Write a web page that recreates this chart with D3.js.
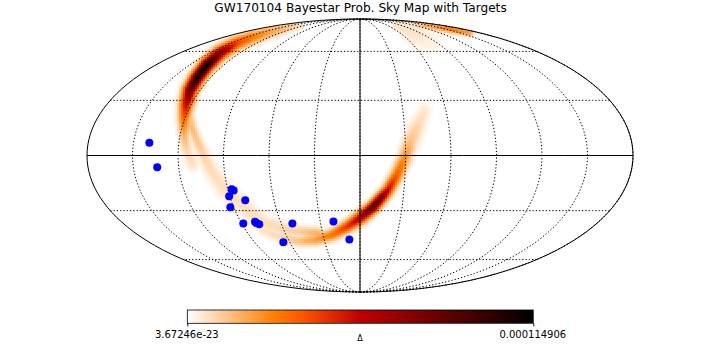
<!DOCTYPE html>
<html>
<head>
<meta charset="utf-8">
<title>GW170104 Bayestar Prob. Sky Map with Targets</title>
<script src="https://d3js.org/d3.v7.min.js"></script>
<style>
  body { margin: 0; background: #fff; }
  svg { display: block; }
  text { font-family: "DejaVu Sans", sans-serif; fill: #000; }
</style>
</head>
<body>
<div id="SkyMap"></div>
<script>
const chartTitle = 'GW170104 Bayestar Prob. Sky Map with Targets';
const unitLabel = '\u0394';

// colorbar limits and their printed labels
const probRange = [3.67246e-23, 0.000114906];
const probTickLabels = ['3.67246e-23', '0.000114906'];

// gist_heat_r, stop position as a fraction of the range
const colorStops = [0, 0.25, 1 / 3, 0.5, 1];
const colorValues = ['#ffffff', '#ff8000', '#ff5500', '#bf0000', '#000000'];

// observed targets, [lon, lat] in degrees
const targets = [
  [139.5, 6.8], [134.2, -6.3], [87.4, -18.2], [86.2, -18.9], [90.4, -22.0],
  [80.1, -24.2], [92.4, -28.1], [88.7, -37.3], [79.2, -36.4], [78.7, -37.1],
  [76.9, -37.8], [51.4, -37.3], [20.0, -36.2], [65.5, -48.7], [8.9, -46.9],
];

// probability ridges: [lon, lat, peak prob, spread in degrees]
const northArc = [
  [134.9, 81.5, 0.8e-5, 2.0], [138.5, 78.5, 1.5e-5, 2.4], [139.3, 74.8, 2.2e-5, 2.7],
  [142.1, 70.7, 3.0e-5, 3.0], [143.2, 66.0, 4.4e-5, 3.0], [139.8, 58.9, 7.6e-5, 3.0],
  [134.8, 51.0, 11.3e-5, 2.9], [130.6, 43.0, 10.9e-5, 2.9], [127.8, 35.9, 8.6e-5, 3.0],
  [123.5, 27.4, 5.7e-5, 3.0], [120.2, 19.1, 3.4e-5, 2.6], [117.4, 11.0, 1.8e-5, 2.4],
  [114.2, 2.9, 1.0e-5, 2.4], [110.4, -5.1, 0.7e-5, 2.8],
];
const innerArc = [
  [119.6, 23.5, 1.3e-5, 2.2], [113.1, 14.8, 1.6e-5, 2.2], [107.3, 6.7, 1.3e-5, 2.4],
  [102.9, -0.3, 1.0e-5, 2.8], [98.3, -8.8, 0.8e-5, 3.4], [92.0, -18.6, 0.7e-5, 4.0],
  [82.1, -28.5, 0.7e-5, 4.0], [74.0, -36.5, 0.75e-5, 3.6], [62.3, -40.0, 0.9e-5, 3.0],
  [47.8, -42.4, 1.15e-5, 2.8], [33.8, -43.6, 1.9e-5, 2.8],
];
const southArc = [
  [77.1, -41.2, 0.6e-5, 2.4], [65.8, -45.4, 0.9e-5, 2.4], [52.4, -47.9, 1.4e-5, 2.4],
  [37.8, -47.3, 2.2e-5, 2.5], [22.7, -44.2, 3.2e-5, 2.6], [10.1, -39.4, 4.6e-5, 2.6],
  [0.0, -34.2, 6.3e-5, 2.8], [-9.3, -28.0, 9.0e-5, 2.5], [-14.6, -23.0, 8.0e-5, 2.5],
  [-19.1, -18.6, 5.7e-5, 2.5], [-24.6, -10.4, 3.7e-5, 2.8], [-29.7, -0.8, 2.5e-5, 3.0],
  [-33.8, 8.3, 1.4e-5, 3.4], [-39.2, 16.4, 0.9e-5, 3.6], [-45.5, 24.6, 0.5e-5, 3.0],
];
const polarEdge = [
  [-135.2, 82.6, 1.15e-5, 1.2], [-146.0, 80.5, 2.07e-5, 1.6],
  [-157.9, 77.5, 3.0e-5, 1.8], [-164.4, 74.0, 2.3e-5, 1.5],
];
const polarFan = [
  [-83.4, 80.5, 0.7e-5, 3.0], [-82.2, 74.0, 0.6e-5, 5.5], [-83.1, 66.8, 0.35e-5, 5.5],
];
const ridges = [northArc, innerArc, southArc, polarEdge, polarFan];

/* Size */
const width = 720;
const height = 360;
const cell = 2;

/* Mollweide, not part of d3-geo core */
function mollweideRaw(lambda, phi) {
  let theta = phi;
  if (Math.abs(phi) > Math.PI / 2 - 1e-6) {
    theta = Math.sign(phi) * Math.PI / 2;
  } else {
    for (let i = 0; i < 30; i++) {
      const delta = (2 * theta + Math.sin(2 * theta) - Math.PI * Math.sin(phi)) / (2 + 2 * Math.cos(2 * theta));
      theta -= delta;
      if (Math.abs(delta) < 1e-8) break;
    }
  }
  return [2 * Math.SQRT2 / Math.PI * lambda * Math.cos(theta), Math.SQRT2 * Math.sin(theta)];
}

const projection = d3.geoProjection(mollweideRaw)
  .reflectX(true)
  .scale(96.52)
  .translate([360, 155.5])
  .precision(0.1);
const geoPath = d3.geoPath(projection);

/* Scale */
const probColor = d3.scaleLinear()
  .domain(colorStops.map(f => probRange[0] + f * (probRange[1] - probRange[0])))
  .range(colorValues);
const barScale = d3.scaleLinear().domain(probRange).range([187.3, 533.3]);

const svg = d3.select('#SkyMap')
  .append('svg')
  .attr('width', width)
  .attr('height', height)
  .attr('viewBox', `0 0 ${width} ${height}`);

/* Map cells */
const [[x0, y0], [x1, y1]] = geoPath.bounds({ type: 'Sphere' });
const cx = (x0 + x1) / 2;
const cy = (y0 + y1) / 2;
const pxPerDeg = (x1 - x0) / 360;

const ridgeSegments = ridges.map(ridge => ridge.map(d => {
  const p = projection([d[0], d[1]]);
  return { x: p[0], y: p[1], prob: d[2], spread: d[3] * pxPerDeg };
}));

function probAt(x, y) {
  let best = 0;
  ridgeSegments.forEach(pts => {
    for (let i = 0; i < pts.length - 1; i++) {
      const a = pts[i];
      const b = pts[i + 1];
      const dx = b.x - a.x;
      const dy = b.y - a.y;
      const t = Math.max(0, Math.min(1, ((x - a.x) * dx + (y - a.y) * dy) / (dx * dx + dy * dy)));
      const ex = x - (a.x + t * dx);
      const ey = y - (a.y + t * dy);
      const s = a.spread + t * (b.spread - a.spread);
      const v = (a.prob + t * (b.prob - a.prob)) * Math.exp(-(ex * ex + ey * ey) / (2 * s * s));
      if (v > best) best = v;
    }
  });
  return best;
}

const cells = [];
for (let y = Math.floor(y0); y < y1; y += cell) {
  for (let x = Math.floor(x0); x < x1; x += cell) {
    const ux = (x + cell / 2 - cx) / ((x1 - x0) / 2);
    const uy = (y + cell / 2 - cy) / ((y1 - y0) / 2);
    if (ux * ux + uy * uy >= 1) continue;
    const prob = probAt(x + cell / 2, y + cell / 2);
    if (prob > probRange[1] * 0.008) cells.push({ x, y, prob });
  }
}

svg.append('g')
  .attr('class', 'cells')
  .attr('shape-rendering', 'crispEdges')
  .selectAll('rect')
  .data(cells)
  .enter()
  .append('rect')
  .attr('x', d => d.x)
  .attr('y', d => d.y)
  .attr('width', cell)
  .attr('height', cell)
  .attr('fill', d => probColor(d.prob));

/* Graticule */
const graticule = d3.geoGraticule()
  .extentMajor([[-180, -90], [180, 90]])
  .extentMinor([[-180, -90], [180, 90]])
  .stepMajor([30, 30])
  .stepMinor([30, 30]);

svg.append('path')
  .datum(graticule())
  .attr('d', geoPath)
  .attr('fill', 'none')
  .attr('stroke', '#000')
  .attr('stroke-width', 1)
  .attr('stroke-dasharray', '1.3 2');

const axesLines = [
  { type: 'LineString', coordinates: [[-180, 0], [-90, 0], [0, 0], [90, 0], [180, 0]] },
  { type: 'LineString', coordinates: [[0, -90], [0, 0], [0, 90]] },
  { type: 'Sphere' },
];

svg.append('g')
  .selectAll('path')
  .data(axesLines)
  .enter()
  .append('path')
  .attr('d', geoPath)
  .attr('fill', 'none')
  .attr('stroke', '#000')
  .attr('stroke-width', 1);

/* Targets */
svg.append('g')
  .attr('class', 'targets')
  .selectAll('circle')
  .data(targets)
  .enter()
  .append('circle')
  .attr('cx', d => projection(d)[0])
  .attr('cy', d => projection(d)[1])
  .attr('r', 4)
  .attr('fill', '#0000ff');

/* Title */
svg.append('text')
  .attr('x', 360.5)
  .attr('y', 12)
  .attr('text-anchor', 'middle')
  .style('font-size', '12.15px')
  .text(chartTitle);

/* Colorbar */
const barTop = 310;
const barHeight = 13.3;
const bar = svg.append('g').attr('class', 'colorbar');

bar.append('g')
  .attr('shape-rendering', 'crispEdges')
  .selectAll('rect')
  .data(d3.range(187, 533))
  .enter()
  .append('rect')
  .attr('x', d => d)
  .attr('y', barTop)
  .attr('width', 1.2)
  .attr('height', barHeight)
  .attr('fill', d => probColor(barScale.invert(d + 0.5)));

bar.append('rect')
  .attr('x', barScale.range()[0])
  .attr('y', barTop)
  .attr('width', barScale.range()[1] - barScale.range()[0])
  .attr('height', barHeight)
  .attr('fill', 'none')
  .attr('stroke', '#000')
  .attr('stroke-width', 0.8);

const barAxis = d3.axisBottom(barScale)
  .tickValues(probRange)
  .tickSize(3)
  .tickPadding(4.5)
  .tickFormat((d, i) => probTickLabels[i]);

bar.append('g')
  .attr('transform', `translate(0, ${barTop + barHeight})`)
  .call(barAxis)
  .call(g => g.select('.domain').remove())
  .call(g => g.selectAll('text').attr('dx', -1).style('font-size', '10px').style('font-family', '"DejaVu Sans", sans-serif'));

bar.append('text')
  .attr('x', 360)
  .attr('y', 341)
  .attr('text-anchor', 'middle')
  .style('font-size', '8px')
  .text(unitLabel);
</script>
</body>
</html>
